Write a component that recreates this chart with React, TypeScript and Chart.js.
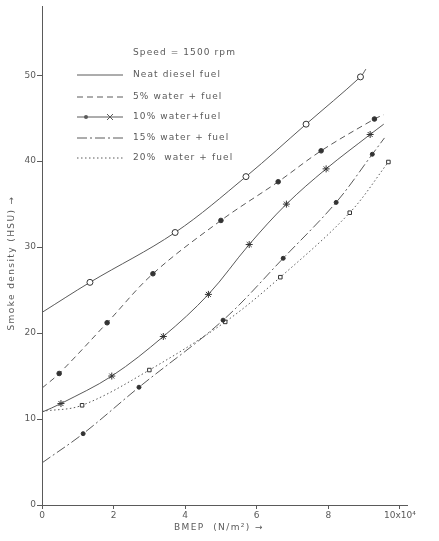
import React, { useEffect, useRef } from "react";
import { Chart, registerables } from "chart.js";
Chart.register(...registerables);

const xTickValues = [0, 2, 4, 6, 8, 10];
const yTickValues = [0, 10, 20, 30, 40, 50];
const legendTitle = "Speed = 1500 rpm";
const xTitle = "BMEP  (N/m\u00b2) \u2192";
const yTitle = "Smoke density (HSU) \u2192";
const seriesNames = [
  "Neat diesel fuel",
  "5% water + fuel",
  "10% water+fuel",
  "15% water + fuel",
  "20%  water + fuel",
];

const neatX = [0, 1.34, 3.72, 5.7, 7.38, 8.9, 9.05];
const neatY = [22.4, 25.9, 31.7, 38.2, 44.3, 49.8, 50.7];
const w5X = [0, 0.48, 1.82, 3.1, 5.0, 6.6, 7.8, 9.29, 9.55];
const w5Y = [13.6, 15.3, 21.2, 26.9, 33.1, 37.6, 41.2, 44.9, 45.4];
const w10X = [0, 0.53, 1.95, 3.39, 4.65, 5.79, 6.83, 7.94, 9.17, 9.55];
const w10Y = [10.8, 11.8, 15.0, 19.6, 24.5, 30.3, 35.0, 39.1, 43.1, 44.3];
const w15X = [0, 1.15, 2.71, 5.06, 6.74, 8.22, 9.23, 9.57];
const w15Y = [4.9, 8.3, 13.7, 21.5, 28.7, 35.2, 40.8, 42.7];
const w20X = [0, 1.12, 3.0, 5.12, 6.66, 8.6, 9.68];
const w20Y = [10.9, 11.6, 15.7, 21.3, 26.5, 34.0, 39.9];
const hasTail = [true, true, true, true, false];

const INK = "#5a5a5a";
const FONT = '"DejaVu Sans", sans-serif';

const styles = [
  { dash: [], point: "circle", r: 3, fill: "#ffffff" },
  { dash: [6, 4], point: "circle", r: 2.3, fill: "#333" },
  { dash: [], point: "star", r: 3.5, fill: "#444" },
  { dash: [10, 3, 2, 3], point: "circle", r: 2, fill: "#333" },
  { dash: [1.5, 2.5], point: "rect", r: 2.5, fill: "#ffffff" },
];

const legendPlugin = {
  id: "inlineLegend",
  afterDraw(chart: any) {
    const ctx = chart.ctx;
    ctx.save();
    ctx.font = `9px ${FONT}`;
    ctx.fillStyle = INK;
    ctx.strokeStyle = INK;
    (ctx as any).letterSpacing = "1.1px";
    ctx.textBaseline = "middle";
    ctx.textAlign = "left";
    ctx.fillText(legendTitle, 133, 53);
    const rows = [75, 97, 117, 138, 158];
    seriesNames.forEach((name, i) => {
      const y = rows[i];
      ctx.lineWidth = 1;
      ctx.setLineDash(styles[i].dash);
      ctx.beginPath();
      ctx.moveTo(77, y);
      ctx.lineTo(123, y);
      ctx.stroke();
      ctx.setLineDash([]);
      if (i === 2) {
        ctx.beginPath();
        ctx.arc(86, y, 2, 0, Math.PI * 2);
        ctx.fill();
        ctx.beginPath();
        ctx.moveTo(107, y - 3);
        ctx.lineTo(113, y + 3);
        ctx.moveTo(113, y - 3);
        ctx.lineTo(107, y + 3);
        ctx.stroke();
      }
      ctx.fillText(name, 133, y);
    });
    // axis titles
    (ctx as any).letterSpacing = "1.4px";
    ctx.textAlign = "center";
    ctx.fillText(xTitle, 219, 528);
    ctx.translate(12, 263);
    ctx.rotate(-Math.PI / 2);
    ctx.fillText(yTitle, 0, 0);
    ctx.restore();
  },
};

function makeDataset(xs: number[], ys: number[], i: number) {
  const st = styles[i];
  const n = xs.length;
  return {
    label: seriesNames[i],
    data: xs.map((x, k) => ({ x, y: ys[k] })),
    showLine: true,
    borderColor: INK,
    borderWidth: 1,
    borderDash: st.dash,
    tension: 0.35,
    pointStyle: st.point,
    pointBackgroundColor: st.fill,
    pointBorderColor: "#333",
    pointBorderWidth: 1,
    pointRadius: (c: any) =>
      c.dataIndex === 0 || (hasTail[i] && c.dataIndex === n - 1) ? 0 : st.r,
    pointHoverRadius: 0,
  };
}

export default function App() {
  const ref = useRef<HTMLCanvasElement>(null);
  useEffect(() => {
    const chart = new Chart(ref.current!, {
      type: "scatter",
      data: {
        datasets: [
          makeDataset(neatX, neatY, 0),
          makeDataset(w5X, w5Y, 1),
          makeDataset(w10X, w10Y, 2),
          makeDataset(w15X, w15Y, 3),
          makeDataset(w20X, w20Y, 4),
        ] as any,
      },
      options: {
        animation: false,
        responsive: false,
        layout: { padding: { top: 6, right: 32, left: 0, bottom: 0 } },
        plugins: { legend: { display: false }, tooltip: { enabled: false } },
        scales: {
          x: {
            type: "linear",
            min: 0,
            max: 10.2,
            afterFit: (s: any) => {
              s.height = 36;
            },
            afterBuildTicks: (s: any) => {
              s.ticks = xTickValues.map((v) => ({ value: v }));
            },
            ticks: {
              color: INK,
              font: { family: FONT, size: 9 },
              padding: 1,
              callback: (v: any) => (v === 10 ? "10x10\u2074" : String(v)),
            },
            grid: { drawOnChartArea: false, drawTicks: true, tickLength: 4, color: INK },
            border: { display: true, color: INK, width: 1 },
          },
          y: {
            type: "linear",
            min: 0,
            max: 58,
            afterFit: (s: any) => {
              s.width = 42;
            },
            afterBuildTicks: (s: any) => {
              s.ticks = yTickValues.map((v) => ({ value: v }));
            },
            ticks: {
              color: INK,
              font: { family: FONT, size: 9 },
              padding: 1,
            },
            grid: { drawOnChartArea: false, drawTicks: true, tickLength: 5, color: INK },
            border: { display: true, color: INK, width: 1 },
          },
        },
      },
      plugins: [legendPlugin],
    });
    return () => chart.destroy();
  }, []);
  return (
    <div style={{ position: "fixed", left: 0, top: 0, width: 439, height: 541, background: "#fff" }}>
      <canvas ref={ref} width={439} height={541} style={{ display: "block" }} />
    </div>
  );
}
